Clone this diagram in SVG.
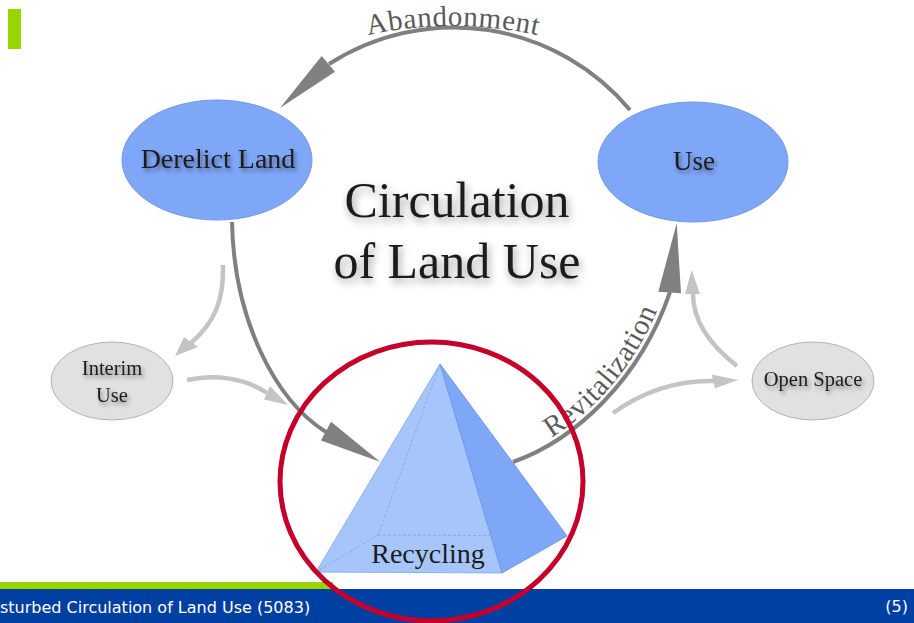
<svg xmlns="http://www.w3.org/2000/svg" width="914" height="623" viewBox="0 0 914 623">
<style>
.serif{font-family:"Liberation Serif","Times New Roman",serif;fill:#1c1c1c;text-anchor:middle}
.lbl{font-family:"Liberation Serif","Times New Roman",serif;fill:#5a5a5a}
.dark{fill:none;stroke:#808080;stroke-width:4}
.light{fill:none;stroke:#c4c4c4;stroke-width:4.5}
.dhead{fill:#808080}
.lhead{fill:#c4c4c4}
.blue{fill:#7fa7f8;stroke:#7497e6;stroke-width:1}
.grey{fill:#e1e1e1;stroke:#b4b4b4;stroke-width:1}
</style>
<defs>
<filter id="sh" x="-20%" y="-50%" width="140%" height="200%">
<feGaussianBlur in="SourceAlpha" stdDeviation="2"/>
<feOffset dx="1.5" dy="2.5"/>
<feComponentTransfer><feFuncA type="linear" slope="0.45"/></feComponentTransfer>
<feMerge><feMergeNode/><feMergeNode in="SourceGraphic"/></feMerge>
</filter>
<filter id="tsh" x="-20%" y="-50%" width="140%" height="200%">
<feGaussianBlur in="SourceAlpha" stdDeviation="4"/>
<feOffset dx="2" dy="4"/>
<feComponentTransfer><feFuncA type="linear" slope="0.4"/></feComponentTransfer>
<feMerge><feMergeNode/><feMergeNode in="SourceGraphic"/></feMerge>
</filter>
<path id="abPath" d="M330,45.6 A396,396 0 0 1 576,45.6"/>
<path id="revPath" d="M511,457 C573,435 635,378 665,290"/>
</defs>
<rect width="914" height="623" fill="#ffffff"/>
<rect x="8" y="9" width="13" height="40" fill="#99d500"/>

<g id="connectors">
<path class="dark" d="M630,110 A230,230 0 0 0 329,64"/>
<polygon class="dhead" points="321.7,56 335,71.7 280,108"/>
<path class="dark" d="M232,222 C234,320 275,400 326,432"/>
<polygon class="dhead" points="331,421.7 321,440.5 380,461.7"/>
<path class="dark" d="M513,462 C575,440 640,380 670,292"/>
<polygon class="dhead" points="658.3,291.7 681,293.3 676.7,223.3"/>
<path class="light" d="M223,265 C224,300 215,322 191,343"/>
<polygon class="lhead" points="184,337 198,347 175,356"/>
<path class="light" d="M187,380 C215,374 245,378 267,393"/>
<polygon class="lhead" points="270,386 264,399.5 288,405"/>
<path class="light" d="M613,413 C645,390 680,380 715,381"/>
<polygon class="lhead" points="711.7,374.5 715,388.3 738.3,380"/>
<path class="light" d="M737,366 C710,345 693,320 693,294"/>
<polygon class="lhead" points="685,294 700,294 691.7,270"/>
<text class="lbl" font-size="29" letter-spacing="0.6"><textPath href="#abPath" startOffset="50%" text-anchor="middle">Abandonment</textPath></text>
<text class="lbl" font-size="29" letter-spacing="0.4"><textPath href="#revPath" startOffset="55%" text-anchor="middle">Revitalization</textPath></text>
</g>

<g id="derelict-land">
<ellipse class="blue" cx="217" cy="160" rx="95" ry="60"/>
<text class="serif" x="218" y="168" font-size="28" filter="url(#sh)">Derelict Land</text>
</g>
<g id="use">
<ellipse class="blue" cx="693" cy="162" rx="95" ry="60"/>
<text class="serif" x="694" y="170" font-size="27" filter="url(#sh)">Use</text>
</g>
<g id="interim-use">
<ellipse class="grey" cx="112" cy="381" rx="61" ry="39"/>
<text class="serif" x="112" y="375" font-size="20.5" filter="url(#sh)">Interim</text>
<text class="serif" x="112" y="402" font-size="20.5" filter="url(#sh)">Use</text>
</g>
<g id="open-space">
<ellipse class="grey" cx="813" cy="381" rx="61" ry="39"/>
<text class="serif" x="813" y="386" font-size="20.5" filter="url(#sh)">Open Space</text>
</g>
<g id="title">
<text class="serif" x="457" y="217" font-size="50" fill="#222" filter="url(#tsh)">Circulation</text>
<text class="serif" x="457" y="278" font-size="50" fill="#222" filter="url(#tsh)">of Land Use</text>
</g>
<g id="recycling">
<polygon points="440,364 316,572 502,573" fill="#a6c5fb" stroke="#8fb0ee" stroke-width="1"/>
<polygon points="440,364 502,573 567,536" fill="#7fa7f7" stroke="#7398e6" stroke-width="1"/>
<g fill="none" stroke="#8aaae6" stroke-width="1" stroke-dasharray="3,2">
<line x1="440" y1="364" x2="378" y2="535"/>
<line x1="378" y1="535" x2="316" y2="572"/>
<line x1="378" y1="535" x2="567" y2="536"/>
</g>
<text class="serif" x="428" y="563" font-size="28">Recycling</text>
</g>

<g id="footer">
<rect x="0" y="582" width="333" height="8" fill="#99d500"/>
<rect x="0" y="589" width="914" height="34" fill="#0040a2"/>
<text x="0" y="613" font-family="'DejaVu Sans',Verdana,sans-serif" font-size="16" fill="#ffffff">sturbed Circulation of Land Use (5083)</text>
<text x="908" y="612" font-family="'DejaVu Sans',Verdana,sans-serif" font-size="16" fill="#ffffff" text-anchor="end">(5)</text>
</g>

<g id="highlight">
<ellipse cx="431.5" cy="481.5" rx="151.5" ry="139.5" fill="none" stroke="#c4002b" stroke-width="5"/>
</g>
</svg>
